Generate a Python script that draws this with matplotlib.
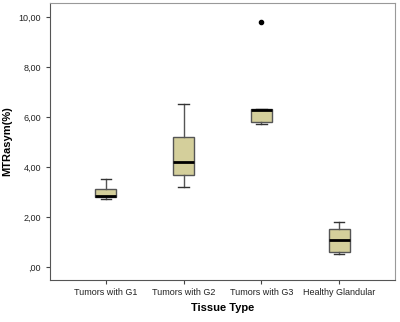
import matplotlib
matplotlib.use("Agg")
import matplotlib.pyplot as plt
from matplotlib.ticker import FuncFormatter

plt.rcParams['font.family'] = ['Liberation Sans', 'DejaVu Sans']

groups = ["Tumors with G1", "Tumors with G2", "Tumors with G3", "Healthy Glandular"]
whislo = [2.71, 3.21, 5.72, 0.51]
q1 = [2.81, 3.67, 5.81, 0.61]
med = [2.85, 4.21, 6.27, 1.07]
q3 = [3.11, 5.21, 6.32, 1.52]
whishi = [3.51, 6.51, 6.32, 1.81]
fliers = [[], [], [9.8], []]

stats = []
for i, g in enumerate(groups):
    stats.append(dict(label=g, whislo=whislo[i], q1=q1[i], med=med[i],
                      q3=q3[i], whishi=whishi[i], fliers=fliers[i]))

fig = plt.figure(figsize=(4, 3.22), dpi=100)
ax = fig.add_axes([50 / 400, 42 / 322, 345 / 400, 277 / 322])

edge = '#555555'
ax.bxp(stats, widths=0.27, patch_artist=True,
       boxprops=dict(facecolor='#d4cf9b', edgecolor=edge, linewidth=1.0),
       whiskerprops=dict(color=edge, linewidth=1.0),
       capprops=dict(color='#333333', linewidth=1.0),
       capwidths=0.14,
       medianprops=dict(color='black', linewidth=2.0),
       flierprops=dict(marker='o', markerfacecolor='black', markeredgecolor='black',
                       markersize=3))

ax.set_xlim(0.28, 4.72)
ax.set_ylim(-0.52, 10.56)
ax.set_yticks([0, 2, 4, 6, 8, 10])
ax.yaxis.set_major_formatter(FuncFormatter(
    lambda v, p: ",00" if v == 0 else f"{v:.2f}".replace(".", ",")))

for s in ['left', 'bottom']:
    ax.spines[s].set_color('#555555')
for s in ['top', 'right']:
    ax.spines[s].set_color('#999999')
ax.tick_params(axis='both', labelsize=6.5, colors='#444444', length=3, width=0.8,
               labelcolor='#222222')
ax.tick_params(axis='x', pad=3)

ax.set_ylabel("MTRasym(%)", fontsize=8, fontweight='bold')
ax.yaxis.set_label_coords(-0.11, 0.5)
ax.set_xlabel("Tissue Type", fontsize=8, fontweight='bold', labelpad=4)

fig.savefig("out.png", dpi=100)
